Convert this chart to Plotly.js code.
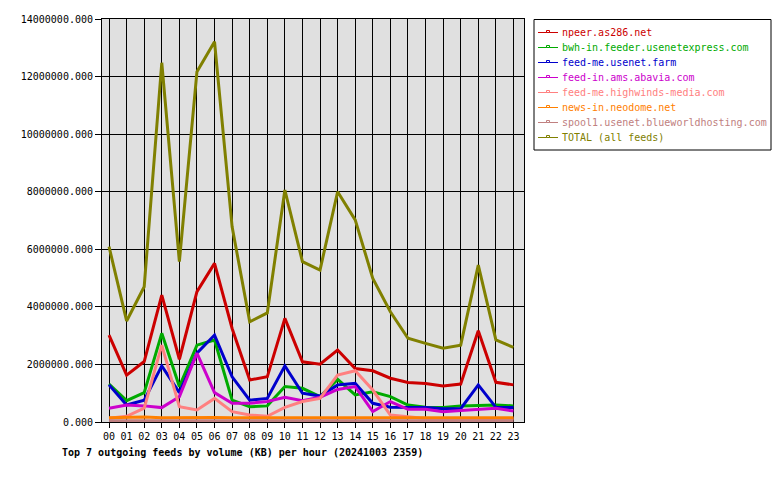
<!DOCTYPE html>
<html>
<head>
<meta charset="utf-8">
<script src="https://cdn.plot.ly/plotly-3.0.1.min.js"></script>
<style>
  html, body { margin: 0; padding: 0; background: #ffffff; }
  #chart { width: 780px; height: 480px; }
</style>
</head>
<body>
<div id="chart"></div>
<script>
// Hours of the day (x categories)
const hours = ["00","01","02","03","04","05","06","07","08","09","10","11",
               "12","13","14","15","16","17","18","19","20","21","22","23"];

// Outgoing volume per feed, KB per hour
const npeer = [3020000,1630000,2100000,4410000,2180000,4530000,5510000,3250000,1460000,1570000,3600000,2090000,
               2010000,2500000,1860000,1780000,1520000,1370000,1340000,1250000,1320000,3170000,1380000,1290000];
const bwhIn = [1320000,740000,1020000,3080000,1230000,2670000,2850000,760000,530000,560000,1230000,1170000,
               880000,1480000,940000,1050000,880000,590000,510000,500000,560000,580000,590000,560000];
const feedMeFarm = [1290000,590000,760000,1950000,1020000,2390000,3020000,1570000,760000,820000,1950000,1000000,
                    900000,1290000,1340000,650000,510000,500000,500000,460000,460000,1290000,510000,500000];
const feedInAbavia = [480000,590000,560000,500000,880000,2390000,1020000,650000,650000,710000,860000,740000,
                      860000,1130000,1230000,360000,710000,440000,440000,360000,400000,440000,480000,380000];
const highwinds = [130000,200000,480000,2670000,530000,420000,820000,360000,240000,200000,510000,710000,
                   820000,1630000,1780000,1110000,240000,170000,120000,110000,110000,110000,110000,110000];
const neodome = [150000,170000,170000,150000,160000,150000,160000,150000,150000,150000,160000,160000,
                 160000,160000,150000,150000,150000,150000,150000,150000,150000,150000,150000,150000];
const spool1 = [40000,40000,40000,40000,40000,40000,40000,40000,40000,40000,40000,40000,
                40000,40000,40000,40000,40000,40000,40000,40000,40000,40000,40000,40000];
const total = [6090000,3510000,4700000,12480000,5570000,12170000,13210000,6780000,3480000,3790000,8060000,5570000,
               5280000,8000000,7020000,4990000,3830000,2910000,2730000,2560000,2670000,5450000,2850000,2590000];

const feedNames = ["npeer.as286.net","bwh-in.feeder.usenetexpress.com","feed-me.usenet.farm",
                   "feed-in.ams.abavia.com","feed-me.highwinds-media.com","news-in.neodome.net",
                   "spool1.usenet.blueworldhosting.com","TOTAL (all feeds)"];
const feedValues = [npeer, bwhIn, feedMeFarm, feedInAbavia, highwinds, neodome, spool1, total];
const feedColors = ["#cc0000","#00aa00","#0000cc","#cc00cc","#ff8080","#ff8000","#c08080","#808000"];

const yTicks = [0,2000000,4000000,6000000,8000000,10000000,12000000,14000000];
const yTickText = ["0.000","2000000.000","4000000.000","6000000.000","8000000.000",
                   "10000000.000","12000000.000","14000000.000"];

const mono = "DejaVu Sans Mono, Liberation Mono, monospace";

// plot-area geometry in pixels, used to place the legend box in paper units
const W = 780, H = 480;
const M = { l: 102, r: 256, t: 19, b: 58 };
const pw = W - M.l - M.r, ph = H - M.t - M.b;
const px = x => (x - M.l) / pw;
const py = y => (H - M.b - y) / ph;

const traces = feedValues.map((vals, i) => ({
  type: "scatter", mode: "lines",
  x: hours, y: vals, name: feedNames[i],
  line: { color: feedColors[i], width: 3 },
  hoverinfo: "skip"
}));

// legend: framed box, thin line sample with a small open square, coloured label
const shapes = [{
  type: "rect", xref: "paper", yref: "paper",
  x0: px(534), x1: px(771), y0: py(150), y1: py(19.5),
  line: { color: "#000000", width: 1 }, fillcolor: "#ffffff", layer: "above"
}];
const annotations = [];
feedNames.forEach((name, i) => {
  const yc = 32.5 + 15 * i;
  shapes.push({
    type: "line", xref: "paper", yref: "paper",
    x0: px(538), x1: px(558), y0: py(yc), y1: py(yc),
    line: { color: feedColors[i], width: 1 }, layer: "above"
  });
  shapes.push({
    type: "rect", xref: "paper", yref: "paper",
    x0: px(546.5), x1: px(549.5), y0: py(yc), y1: py(yc - 2),
    line: { color: feedColors[i], width: 1 }, fillcolor: "#ffffff", layer: "above"
  });
  annotations.push({
    xref: "paper", yref: "paper",
    x: px(560), y: py(yc), xanchor: "left", yanchor: "middle",
    text: name, showarrow: false,
    font: { family: mono, size: 10, color: feedColors[i] }
  });
});

annotations.push({
  xref: "paper", yref: "paper",
  x: px(60), y: py(452), xanchor: "left", yanchor: "middle",
  text: "<b>Top 7 outgoing feeds by volume (KB) per hour (20241003 2359)</b>",
  showarrow: false,
  font: { family: mono, size: 10, color: "#000000" }
});

const layout = {
  width: W, height: H,
  margin: { l: M.l, r: M.r, t: M.t, b: M.b, pad: 0, autoexpand: false },
  paper_bgcolor: "#ffffff",
  plot_bgcolor: "#e0e0e0",
  font: { family: mono, size: 10, color: "#000000" },
  showlegend: false,
  xaxis: {
    type: "category",
    range: [-0.4, 23.6],
    tickmode: "array", tickvals: hours, ticktext: hours,
    showgrid: true, gridcolor: "#000000", gridwidth: 1,
    showline: true, linecolor: "#000000", linewidth: 1, mirror: true,
    ticks: "outside", ticklen: 5, tickcolor: "#000000",
    tickfont: { family: mono, size: 10, color: "#000000" },
    zeroline: false, fixedrange: true
  },
  yaxis: {
    range: [0, 14000000],
    tickmode: "array", tickvals: yTicks, ticktext: yTickText,
    showgrid: true, gridcolor: "#000000", gridwidth: 1,
    showline: true, linecolor: "#000000", linewidth: 1, mirror: true,
    ticks: "outside", ticklen: 6, tickcolor: "#000000",
    tickfont: { family: mono, size: 10, color: "#000000" },
    zeroline: false, fixedrange: true
  },
  shapes: shapes,
  annotations: annotations
};

Plotly.newPlot("chart", traces, layout, { displayModeBar: false, staticPlot: true });
</script>
</body>
</html>
